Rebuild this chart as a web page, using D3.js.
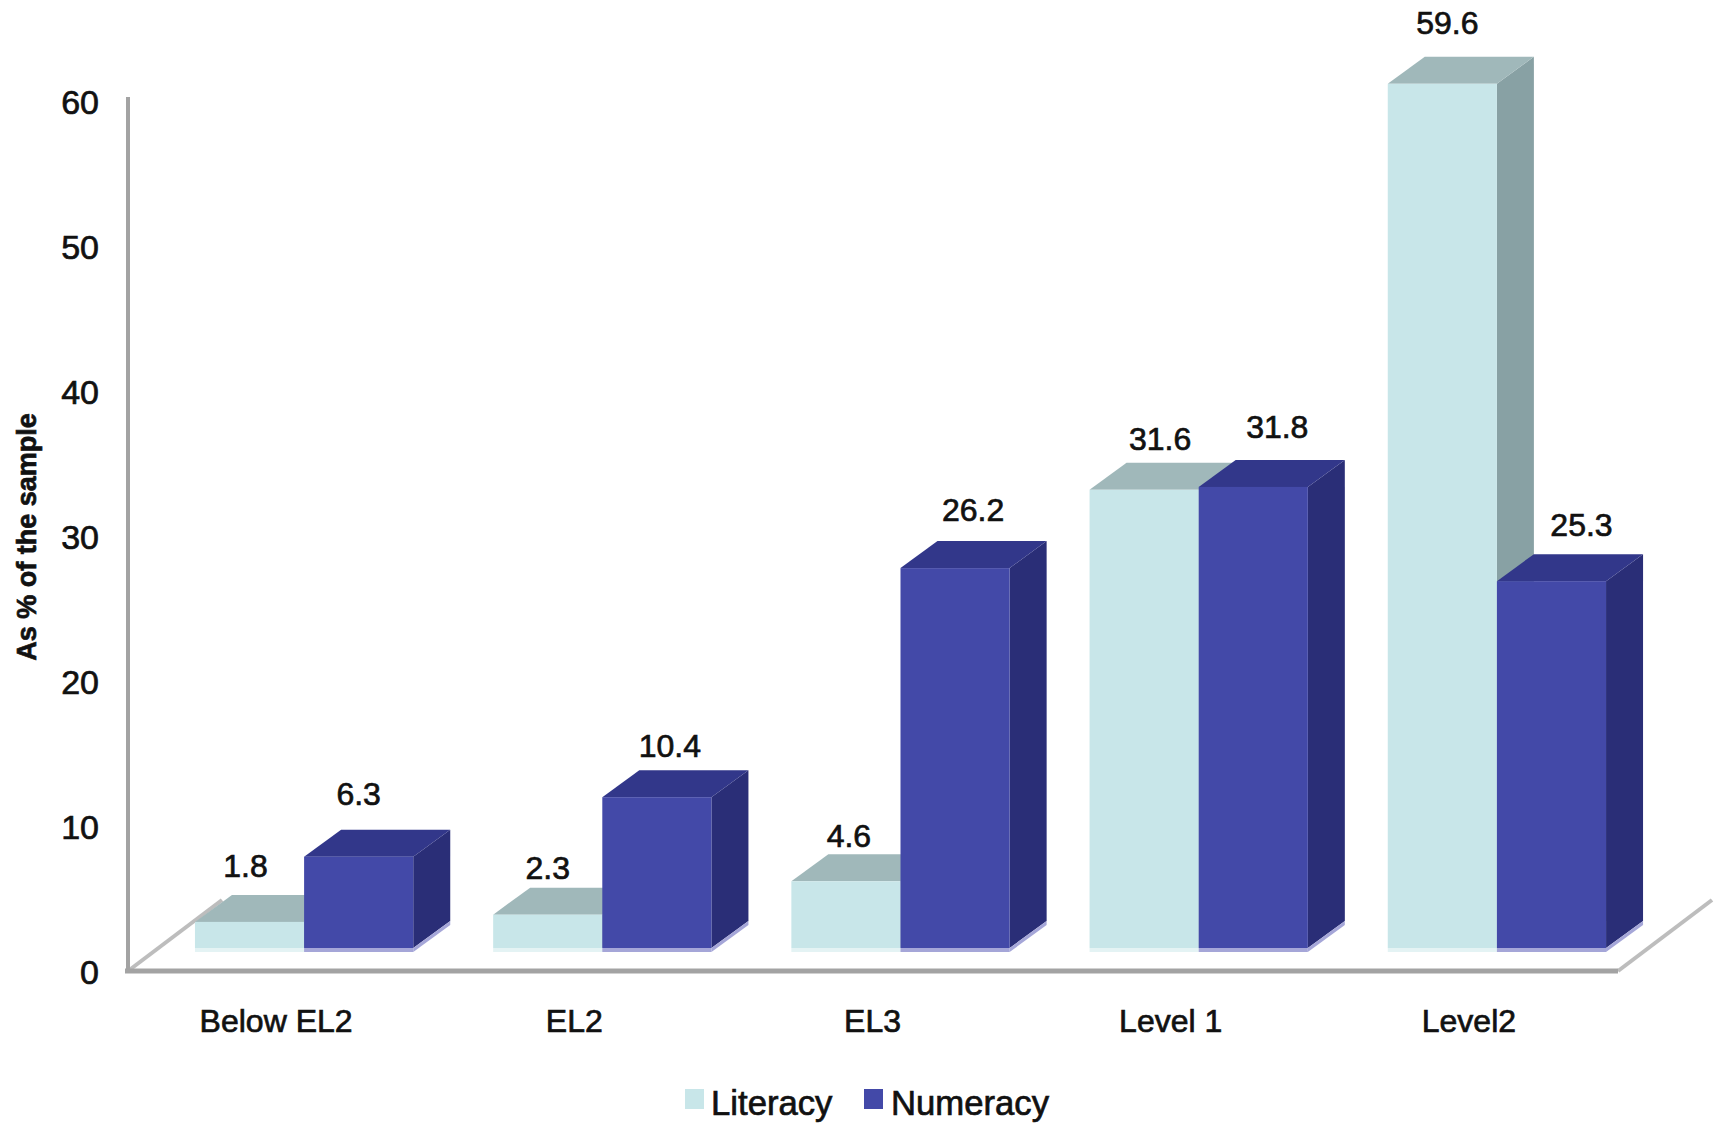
<!DOCTYPE html>
<html>
<head>
<meta charset="utf-8">
<script src="https://cdn.jsdelivr.net/npm/d3@7/dist/d3.min.js"></script>
<style>
  html, body { margin: 0; padding: 0; background: #fff; }
  svg { display: block; font-family: "Liberation Sans", Arial, sans-serif; }
  text { fill: #111; stroke: #111; stroke-width: 0.7px; }
</style>
</head>
<body>
<svg id="chart" width="1717" height="1124"></svg>
<script>
// Values
const categories = ["Below EL2", "EL2", "EL3", "Level 1", "Level2"];
const literacy = [1.8, 2.3, 4.6, 31.6, 59.6];
const numeracy = [6.3, 10.4, 26.2, 31.8, 25.3];
const yTicks = [0, 10, 20, 30, 40, 50, 60];
const seriesNames = ["Literacy", "Numeracy"];

// Hand placement of the value labels, relative to each bar's top face
const literacyLabelDx = [-4, 0, 3, 16, 5];
const literacyLabelDy = [18, 9, 7, 13, 23];
const numeracyLabelDx = [0, 13, 18, 24, 30];
const numeracyLabelDy = [25, 13, 20, 22, 18];

// Face colours for each series
const palette = [
  { front: "#c8e6e9", top: "#a0b8ba", side: "#88a1a4", foot: "#e4f3f4" },
  { front: "#4349a8", top: "#32378a", side: "#2a2e77", foot: "#a5a6d8" }
];

// Projection of the 3D box: bar depth and floor depth
const depthX = 37, depthY = 27;
const floorX = 94, floorY = 71;
const floorLift = 22, footHeight = 4;

const svg = d3.select("#chart");

const y = d3.scaleLinear().domain([0, 60]).range([970, 100]);
const x0 = d3.scaleBand().domain(categories).range([155, 1646]).paddingInner(0.268).paddingOuter(0.134);
const x1 = d3.scaleBand().domain(seriesNames).range([0, x0.bandwidth()]);

const wallX = 128, floorEndX = 1618;
const grey = "#a3a3a3", greyLight = "#bdbdbd";

// Floor and wall edges
const floor = svg.append("g").attr("fill", "none");
floor.append("line")
  .attr("x1", wallX).attr("y1", y(0) + 1)
  .attr("x2", wallX + floorX).attr("y2", y(0) + 1 - floorY)
  .attr("stroke", greyLight).attr("stroke-width", 4);
floor.append("line")
  .attr("x1", floorEndX).attr("y1", y(0) + 1)
  .attr("x2", floorEndX + floorX).attr("y2", y(0) + 1 - floorY)
  .attr("stroke", greyLight).attr("stroke-width", 4);
floor.append("line")
  .attr("x1", wallX - 3).attr("y1", y(0) + 1)
  .attr("x2", floorEndX).attr("y2", y(0) + 1)
  .attr("stroke", grey).attr("stroke-width", 5);
floor.append("line")
  .attr("x1", wallX).attr("y1", y(0) + 3)
  .attr("x2", wallX).attr("y2", y(60) - 3)
  .attr("stroke", grey).attr("stroke-width", 4);

// One extruded bar: side, top, front, then the lighter foot strip
function drawBar(g, left, value, colors) {
  const w = x1.bandwidth();
  const top = y(value) - floorLift;
  const base = y(0) - floorLift;
  const path = d3.line();
  g.append("path")
    .attr("d", path([[left + w, top], [left + w + depthX, top - depthY], [left + w + depthX, base - depthY], [left + w, base]]) + "Z")
    .attr("fill", colors.side);
  g.append("path")
    .attr("d", path([[left + w, base + footHeight], [left + w + depthX, base + footHeight - depthY], [left + w + depthX, base - depthY], [left + w, base]]) + "Z")
    .attr("fill", colors.foot);
  g.append("path")
    .attr("d", path([[left, top], [left + depthX, top - depthY], [left + w + depthX, top - depthY], [left + w, top]]) + "Z")
    .attr("fill", colors.top);
  g.append("rect")
    .attr("x", left).attr("y", top).attr("width", w).attr("height", base - top)
    .attr("fill", colors.front);
  g.append("rect")
    .attr("x", left).attr("y", base).attr("width", w).attr("height", footHeight)
    .attr("fill", colors.foot);
}

const barsLayer = svg.append("g");
categories.forEach((c, i) => {
  const g = barsLayer.append("g");
  drawBar(g, x0(c) + x1(seriesNames[0]), literacy[i], palette[0]);
  drawBar(g, x0(c) + x1(seriesNames[1]), numeracy[i], palette[1]);
});

// Value labels
const labelsLayer = svg.append("g").attr("font-size", 32).attr("text-anchor", "middle");
categories.forEach((c, i) => {
  [[literacy, literacyLabelDx, literacyLabelDy, 0], [numeracy, numeracyLabelDx, numeracyLabelDy, 1]].forEach(([vals, dxs, dys, s]) => {
    labelsLayer.append("text")
      .attr("x", x0(c) + x1(seriesNames[s]) + x1.bandwidth() / 2 + dxs[i])
      .attr("y", y(vals[i]) - floorLift - depthY - dys[i])
      .text(vals[i].toFixed(1));
  });
});

// Axes
const yAxis = d3.axisLeft(y).tickValues(yTicks).tickSize(0).tickPadding(29);
svg.append("g").attr("transform", `translate(${wallX},3)`).call(yAxis)
  .call(g => g.select(".domain").remove())
  .call(g => g.selectAll("text").attr("font-size", 34).attr("font-family", "Liberation Sans, Arial, sans-serif"));

const xAxis = d3.axisBottom(x0).tickSize(0).tickPadding(39);
svg.append("g").attr("transform", `translate(-28,${y(0)})`).call(xAxis)
  .call(g => g.select(".domain").remove())
  .call(g => g.selectAll("text").attr("font-size", 32).attr("font-family", "Liberation Sans, Arial, sans-serif"));

svg.append("text")
  .attr("transform", "translate(36,537) rotate(-90)")
  .attr("text-anchor", "middle")
  .attr("font-size", 27).attr("font-weight", "bold")
  .text("As % of the sample");

// Legend
const legendSwatchX = [685, 864];
const legendTextX = [711, 891];
seriesNames.forEach((name, i) => {
  svg.append("rect")
    .attr("x", legendSwatchX[i]).attr("y", 1089).attr("width", 19).attr("height", 20)
    .attr("fill", palette[i].front);
  svg.append("text")
    .attr("x", legendTextX[i]).attr("y", 1115)
    .attr("font-size", 34.7)
    .text(name);
});
</script>
</body>
</html>
